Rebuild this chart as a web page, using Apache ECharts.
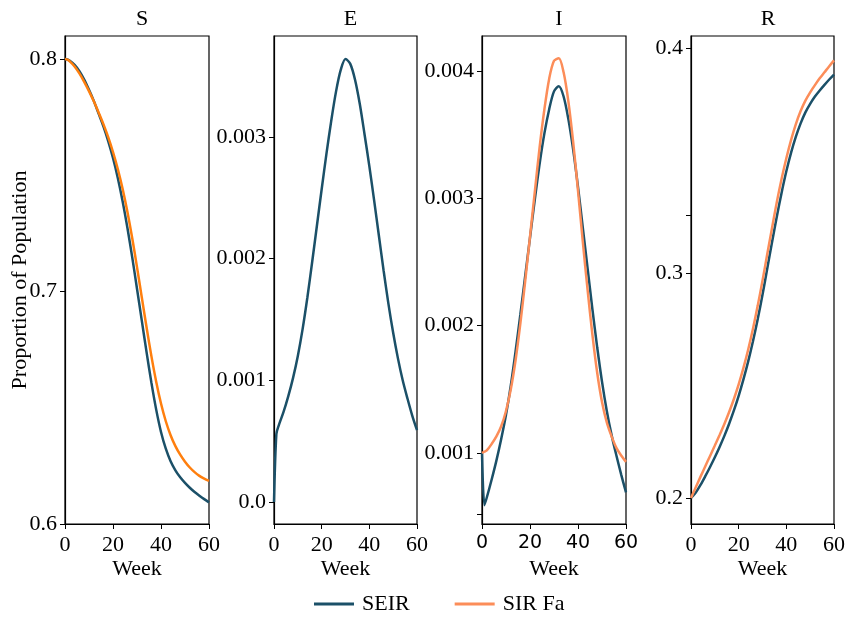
<!DOCTYPE html>
<html>
<head>
<meta charset="utf-8">
<script src="https://cdn.jsdelivr.net/npm/echarts@6/dist/echarts.min.js"></script>
<style>
html,body{margin:0;padding:0;background:#fff;}
#chart{width:848px;height:617px;}
</style>
</head>
<body>
<div id="chart"></div>
<script>
// ---- data ----
const weeks = [0,1,2,4,6,8,10,12,14,16,18,20,22,24,26,28,30,32,34,36,38,40,42,44,46,48,50,52,54,56,58,60];

const sSEIR = [0.8000,0.7998,0.7993,0.7975,0.7948,0.7912,0.7868,0.7820,0.7765,0.7710,0.7647,0.7574,0.7488,0.7388,0.7274,0.7148,0.7012,0.6875,0.6738,0.6608,0.6492,0.6396,0.6324,0.6270,0.6231,0.6201,0.6177,0.6156,0.6138,0.6122,0.6107,0.6093];
const sSIRFa = [0.8000,0.7997,0.7990,0.7968,0.7938,0.7902,0.7862,0.7818,0.7770,0.7720,0.7664,0.7600,0.7527,0.7442,0.7343,0.7230,0.7105,0.6975,0.6845,0.6722,0.6612,0.6518,0.6442,0.6382,0.6335,0.6298,0.6268,0.6243,0.6223,0.6207,0.6195,0.6185];

const eSEIR = [0,0.00056,0.00063,0.00074,0.00087,0.00102,0.00120,0.00142,0.00168,0.00197,0.00227,0.00257,0.00286,0.00313,0.00337,0.00355,0.00364,0.00360,0.00347,0.00327,0.00302,0.00276,0.00248,0.00219,0.00190,0.00163,0.00139,0.00118,0.00100,0.00085,0.00071,0.00059];

const iSEIR = [0.00100,0.00059,0.00065,0.00079,0.00094,0.00111,0.00130,0.00153,0.00180,0.00209,0.00239,0.00269,0.00299,0.00327,0.00351,0.00370,0.00384,0.00388,0.00380,0.00362,0.00338,0.00309,0.00277,0.00245,0.00213,0.00183,0.00156,0.00133,0.00114,0.00098,0.00083,0.00069];
const iSIRFa = [0.00100,0.00101,0.00102,0.00107,0.00113,0.00121,0.00133,0.00150,0.00173,0.00202,0.00235,0.00270,0.00305,0.00340,0.00370,0.00394,0.00408,0.00410,0.00399,0.00376,0.00344,0.00306,0.00266,0.00228,0.00193,0.00163,0.00140,0.00124,0.00113,0.00104,0.00098,0.00093];

const rSEIR = [0.2000,0.2011,0.2024,0.2058,0.2097,0.2138,0.2181,0.2227,0.2276,0.2330,0.2389,0.2454,0.2527,0.2607,0.2697,0.2795,0.2903,0.3020,0.3137,0.3250,0.3356,0.3452,0.3535,0.3606,0.3665,0.3714,0.3752,0.3784,0.3811,0.3836,0.3860,0.3882];
const rSIRFa = [0.2000,0.2024,0.2048,0.2095,0.2141,0.2187,0.2233,0.2280,0.2329,0.2382,0.2440,0.2505,0.2578,0.2660,0.2752,0.2855,0.2966,0.3084,0.3200,0.3315,0.3418,0.3510,0.3592,0.3662,0.3720,0.3766,0.3803,0.3835,0.3865,0.3892,0.3919,0.3945];

const panelTitles = ['S','E','I','R'];
const seriesNames = ['SEIR','SIR Fa'];
const xTicks = [0,20,40,60];
const sTicks = [0.6,0.7,0.8];
const eTicks = [0,0.001,0.002,0.003];
const iTicks = [0.001,0.002,0.003,0.004];
const iExtraTicks = [0.00052];
const rTicks = [0.2,0.3,0.4];
const rExtraTicks = [0.3258];

// ---- styling / layout ----
const SERIF = '"Liberation Serif", "DejaVu Serif", serif';
const SANS = '"DejaVu Sans", sans-serif';
const C_SEIR = '#1b5068';
const C_ORANGE = '#ff7f0e';
const C_SALMON = '#fc8d59';
const FS = 22;

const grids = [
  {left:65, top:36, width:144, height:488},
  {left:274, top:36, width:143, height:488},
  {left:482, top:36, width:144, height:488},
  {left:691, top:36, width:144, height:488}
];
const yRanges = [
  {min:0.6, max:0.8099},
  {min:-0.000181, max:0.003829},
  {min:0.000442, max:0.004275},
  {min:0.18844, max:0.40533}
];
const yLabelVals = [sTicks, eTicks, iTicks, rTicks];
const yTickVals = [sTicks, eTicks, iTicks.concat(iExtraTicks), rTicks.concat(rExtraTicks)];
const yFmt = [
  v => v.toFixed(1),
  v => (Math.abs(v) < 1e-12 ? '0.0' : v.toFixed(3)),
  v => v.toFixed(3),
  v => v.toFixed(1)
];

const pairs = arr => weeks.map((w,i)=>[w, arr[i]]);

const xAxes = grids.map((g,i)=>({
  type:'value', gridIndex:i, min:0, max:60, interval:20,
  name:'Week', nameLocation:'middle', nameGap:34, nameMoveOverlap:false,
  nameTextStyle:{fontFamily:SERIF, fontSize:FS, color:'#000'},
  axisLine:{show:true, onZero:false, lineStyle:{color:'#000', width:1.2}},
  axisTick:{show:true, length:5, lineStyle:{color:'#000', width:1}, customValues: xTicks},
  axisLabel:{fontFamily: i===2 ? SANS : SERIF, fontSize: i===2 ? 19 : FS, color:'#000', margin:10, customValues: xTicks},
  splitLine:{show:false}
}));

const yAxes = grids.map((g,i)=>({
  type:'value', gridIndex:i, min:yRanges[i].min, max:yRanges[i].max,
  name: i===0 ? 'Proportion of Population' : '',
  nameLocation:'middle', nameGap:34, nameMoveOverlap:false,
  nameTextStyle:{fontFamily:SERIF, fontSize:FS, color:'#000'},
  axisLine:{show:true, onZero:false, lineStyle:{color:'#000', width:1.2}},
  axisTick:{show:true, length:5, lineStyle:{color:'#000', width:1}, customValues: yTickVals[i]},
  axisLabel:{fontFamily:SERIF, fontSize:FS, color:'#000', margin:8, customValues: yLabelVals[i], formatter: yFmt[i]},
  splitLine:{show:false}
}));

const titles = panelTitles.map((t,i)=>({
  text:t, left: grids[i].left + grids[i].width/2, top:3, textAlign:'center',
  textStyle:{fontFamily:SERIF, fontSize:FS, fontWeight:'normal', color:'#000'}
}));

function line(name, data, idx, color){
  return {
    type:'line', name:name, xAxisIndex:idx, yAxisIndex:idx,
    data:pairs(data), showSymbol:false, symbol:'none', smooth:0.3,
    lineStyle:{color:color, width:2.5}, itemStyle:{color:color},
    emphasis:{disabled:true}, animation:false
  };
}

const option = {
  backgroundColor:'#fff',
  animation:false,
  title: titles,
  grid: grids.map(g=>Object.assign({show:true, borderColor:'#000', borderWidth:1.2, backgroundColor:'transparent'}, g)),
  xAxis: xAxes,
  yAxis: yAxes,
  legend:{
    top:593, left:314, padding:0, itemGap:45, itemWidth:40, itemHeight:3,
    icon:'rect',
    textStyle:{fontFamily:SERIF, fontSize:FS, color:'#000', padding:[0,0,0,3]},
    data:[
      {name:seriesNames[0], itemStyle:{color:C_SEIR}},
      {name:seriesNames[1], itemStyle:{color:C_SALMON}}
    ]
  },
  series:[
    line(seriesNames[0], sSEIR, 0, C_SEIR),
    line(seriesNames[1], sSIRFa, 0, C_ORANGE),
    line(seriesNames[0], eSEIR, 1, C_SEIR),
    line(seriesNames[0], iSEIR, 2, C_SEIR),
    line(seriesNames[1], iSIRFa, 2, C_SALMON),
    line(seriesNames[0], rSEIR, 3, C_SEIR),
    line(seriesNames[1], rSIRFa, 3, C_SALMON)
  ]
};

const chart = echarts.init(document.getElementById('chart'), null, {renderer:'canvas'});
chart.setOption(option);
</script>
</body>
</html>
